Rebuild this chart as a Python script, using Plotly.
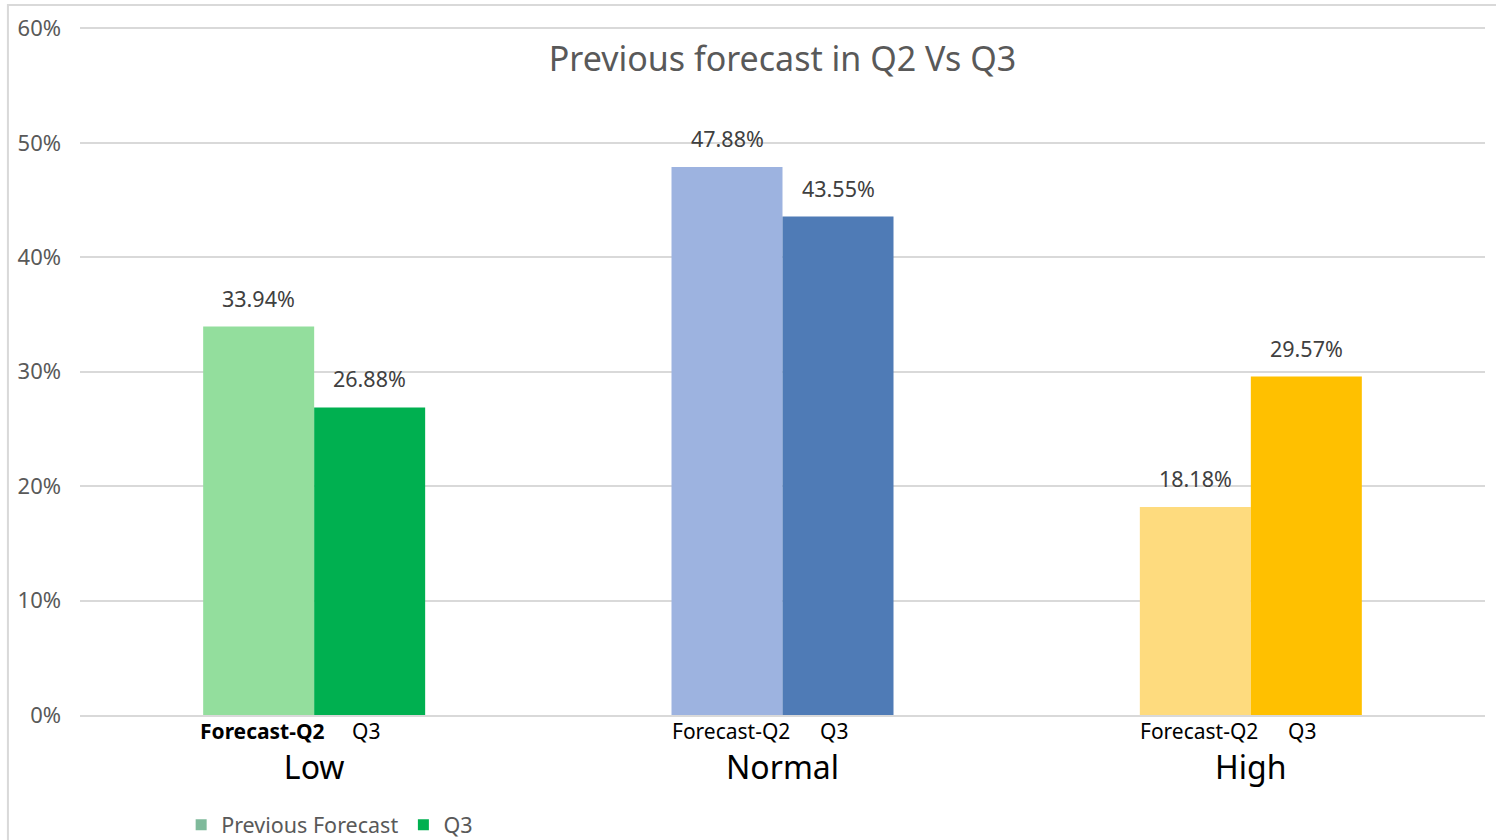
import plotly.graph_objects as go

# Chart data
categories = ["Low", "Normal", "High"]
forecast_q2 = [33.94, 47.88, 18.18]
q3_values = [26.88, 43.55, 29.57]
sub_labels = ["Forecast-Q2", "Q3"]
y_ticks = [0, 10, 20, 30, 40, 50, 60]
y_tick_text = ["0%", "10%", "20%", "30%", "40%", "50%", "60%"]

# Per-category colours (light for the forecast, solid for Q3)
forecast_colors = ["#93DE9D", "#9DB3E0", "#FEDB7E"]
q3_colors = ["#00B050", "#4F7BB6", "#FFC000"]
legend_colors = ["#7FBA9B", "#00B050"]

FONT = "Noto Sans"
GREY = "#595959"
BAR_SHIFT = 55.5  # half a bar width in pixels

fig = go.Figure()

series = [(forecast_q2, forecast_colors, "Previous Forecast"),
          (q3_values, q3_colors, "Q3")]
for vals, cols, name in series:
    fig.add_trace(go.Bar(
        x=categories, y=vals, name=name,
        marker=dict(color=cols, line=dict(width=0)),
        showlegend=False, hoverinfo="x+y",
    ))

# Value labels above each bar
for j, (vals, _, _) in enumerate(series):
    for cat, v in zip(categories, vals):
        fig.add_annotation(
            x=cat, y=v, xref="x", yref="y",
            xshift=-BAR_SHIFT if j == 0 else BAR_SHIFT,
            yshift=12, yanchor="bottom", showarrow=False,
            text=f"{v:.2f}%",
            font=dict(size=21.5, color="#404040", family=FONT),
        )

# Legend entries
for name, col in zip(["Previous Forecast", "Q3"], legend_colors):
    fig.add_trace(go.Scatter(
        x=[None], y=[None], mode="markers", name=name,
        marker=dict(symbol="square", size=11, color=col),
    ))

# Series labels beneath each bar
for i, cat in enumerate(categories):
    for j, lab in enumerate(sub_labels):
        bold = (i == 0 and j == 0)
        fig.add_annotation(
            x=cat, y=0, xref="x", yref="y",
            xshift=-BAR_SHIFT + 4 if j == 0 else BAR_SHIFT - 4,
            yshift=-16,
            text=f"<b>{lab}</b>" if bold else lab,
            showarrow=False, yanchor="middle",
            font=dict(size=21, color="#000000", family=FONT),
        )

# Outer chart frame
fig.add_shape(
    type="rect", xref="paper", yref="paper",
    x0=-0.0513, x1=1.05, y0=-0.4, y1=1.032,
    line=dict(color="#D9D9D9", width=2), layer="below",
)

fig.update_layout(
    width=1496, height=840,
    margin=dict(l=80, r=11, t=27, b=125, autoexpand=False),
    paper_bgcolor="white", plot_bgcolor="white",
    barmode="group", bargap=0.526, bargroupgap=0,
    font=dict(family=FONT, color=GREY),
    title=dict(
        text="Previous forecast in Q2 Vs Q3",
        x=0.5, xanchor="center", xref="paper",
        y=0.93, yanchor="middle",
        font=dict(size=34, color=GREY, family=FONT),
    ),
    legend=dict(
        orientation="h", x=0.072, xanchor="left",
        yref="container", y=0.018, yanchor="middle",
        font=dict(size=21.5, color=GREY, family=FONT),
        itemwidth=30, bgcolor="rgba(0,0,0,0)",
    ),
    xaxis=dict(
        showgrid=False, showline=True, linecolor="#D9D9D9", linewidth=2,
        ticks="", tickfont=dict(size=32, color="#000000", family=FONT),
        ticklabelstandoff=24, automargin=False,
    ),
    yaxis=dict(
        range=[0, 60.12], tickvals=y_ticks, ticktext=y_tick_text,
        showgrid=True, gridcolor="#D9D9D9", gridwidth=2,
        zeroline=False, showline=False,
        tickfont=dict(size=22, color=GREY, family=FONT),
        ticklabelstandoff=18, automargin=False,
    ),
)

fig.write_html("out.html")
